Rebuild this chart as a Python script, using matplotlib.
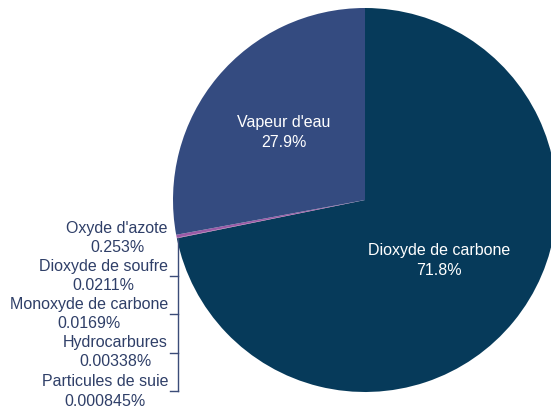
import matplotlib
matplotlib.use("Agg")
import matplotlib.pyplot as plt
import numpy as np

categories = ["Dioxyde de carbone", "Particules de suie", "Hydrocarbures",
              "Monoxyde de carbone", "Dioxyde de soufre", "Oxyde d'azote", "Vapeur d'eau"]
values = [71.8, 0.000845, 0.00338, 0.0169, 0.0211, 0.253, 27.9]
pct_labels = ["71.8%", "0.000845%", "0.00338%", "0.0169%", "0.0211%", "0.253%", "27.9%"]
colors = ["#063a5a", "#e6739f", "#cc4c8c", "#b7589a", "#a65aa0", "#9a5aa6", "#344b80"]

plt.rcParams['font.family'] = ['Liberation Sans', 'DejaVu Sans']
FS = 11.5
W, H = 551, 409
fig = plt.figure(figsize=(W / 100, H / 100), dpi=100)
cx, cy, R = 365, 200, 192
ax = fig.add_axes([0, 0, 1, 1])

def px(x, y):
    return ((x - cx) / R, (cy - y) / R)

wedges, _ = ax.pie(values, colors=colors, startangle=90, counterclock=False,
                   radius=1, center=(0, 0), frame=True,
                   wedgeprops=dict(linewidth=0))
ax.set_xlim(-cx / R, (W - cx) / R)
ax.set_ylim(-(H - cy) / R, cy / R)
ax.set_aspect('equal')
ax.axis('off')

# inside labels
inner = {0: 0.5, 6: 0.55}
for i, d in inner.items():
    w = wedges[i]
    ang = np.deg2rad((w.theta1 + w.theta2) / 2)
    x, y = d * np.cos(ang), d * np.sin(ang)
    ax.text(x, y, categories[i] + "\n" + pct_labels[i], ha='center', va='center',
            color='white', fontsize=FS, linespacing=1.4)

# outside labels for tiny slices (top to bottom)
txtc = "#2f3f68"
small = [5, 4, 3, 2, 1]
name_y = [228, 266, 304, 342, 381]
for k, i in enumerate(small):
    yy = name_y[k]
    x, y = px(168, yy)
    ax.text(x, y, categories[i], ha='right', va='center', color=txtc, fontsize=FS)
    t = ax.text(0, 0, categories[i], fontsize=FS)
    fig.canvas.draw()
    wpx = t.get_window_extent().width
    t.remove()
    xc, yc = px(168 - wpx / 2, yy + 20)
    ax.text(xc, yc, pct_labels[i], ha='center', va='center', color=txtc, fontsize=FS)

# leader bracket
lc = "#3b4c78"
x0, _ = px(178, 0)
_, ytop = px(0, 238)
_, ybot = px(0, 391)
ax.plot([x0, x0], [ytop, ybot], color=lc, lw=1)
for yy in [276, 314, 353, 391]:
    xa, ya = px(170, yy)
    ax.plot([xa, x0], [ya, ya], color=lc, lw=1)

fig.savefig("out.png", dpi=100)
